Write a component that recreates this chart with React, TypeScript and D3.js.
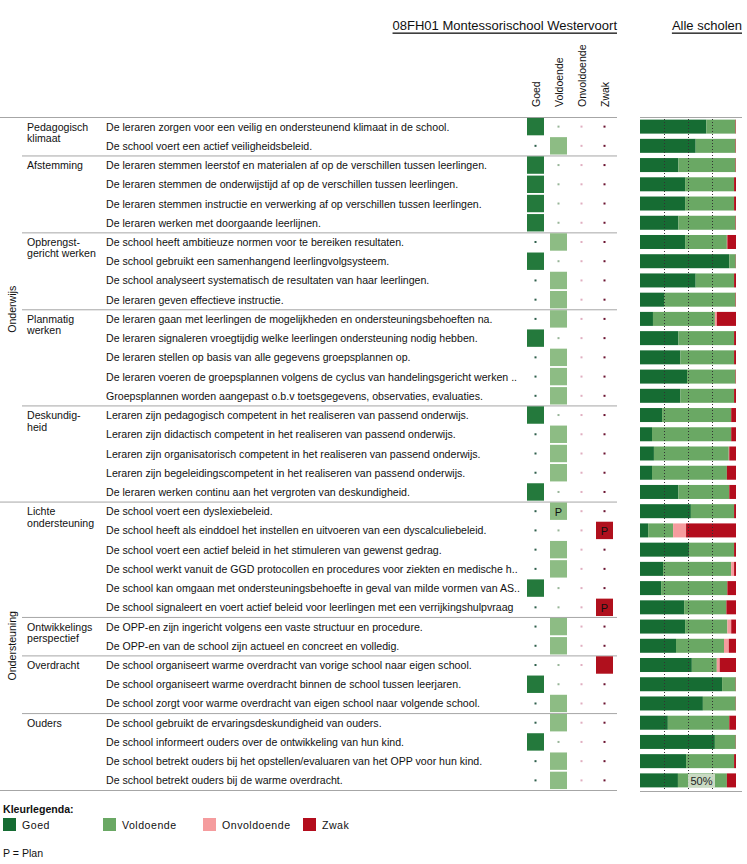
import React from "react";
import * as d3 from "d3";

const items = [
  "De leraren zorgen voor een veilig en ondersteunend klimaat in de school.",
  "De school voert een actief veiligheidsbeleid.",
  "De leraren stemmen leerstof en materialen af op de verschillen tussen leerlingen.",
  "De leraren stemmen de onderwijstijd af op de verschillen tussen leerlingen.",
  "De leraren stemmen instructie en verwerking af op verschillen tussen leerlingen.",
  "De leraren werken met doorgaande leerlijnen.",
  "De school heeft ambitieuze normen voor te bereiken resultaten.",
  "De school gebruikt een samenhangend leerlingvolgsysteem.",
  "De school analyseert systematisch de resultaten van haar leerlingen.",
  "De leraren geven effectieve instructie.",
  "De leraren gaan met leerlingen de mogelijkheden en ondersteuningsbehoeften na.",
  "De leraren signaleren vroegtijdig welke leerlingen ondersteuning nodig hebben.",
  "De leraren stellen op basis van alle gegevens groepsplannen op.",
  "De leraren voeren de groepsplannen volgens de cyclus van handelingsgericht werken ..",
  "Groepsplannen worden aangepast o.b.v toetsgegevens, observaties, evaluaties.",
  "Leraren zijn pedagogisch competent in het realiseren van passend onderwijs.",
  "Leraren zijn didactisch competent in het realiseren van passend onderwijs.",
  "Leraren zijn organisatorisch competent in het realiseren van passend onderwijs.",
  "Leraren zijn begeleidingscompetent in het realiseren van passend onderwijs.",
  "De leraren werken continu aan het vergroten van deskundigheid.",
  "De school voert een dyslexiebeleid.",
  "De school heeft als einddoel het instellen en uitvoeren van een dyscalculiebeleid.",
  "De school voert een actief beleid in het stimuleren van gewenst gedrag.",
  "De school werkt vanuit de GGD protocollen en procedures voor ziekten en medische h..",
  "De school kan omgaan met ondersteuningsbehoefte in geval van milde vormen van AS..",
  "De school signaleert en voert actief beleid voor leerlingen met een verrijkingshulpvraag",
  "De OPP-en zijn ingericht volgens een vaste structuur en procedure.",
  "De OPP-en van de school zijn actueel en concreet en volledig.",
  "De school organiseert warme overdracht van vorige school naar eigen school.",
  "De school organiseert warme overdracht binnen de school tussen leerjaren.",
  "De school zorgt voor warme overdracht van eigen school naar volgende school.",
  "De school gebruikt de ervaringsdeskundigheid van ouders.",
  "De school informeert ouders over de ontwikkeling van hun kind.",
  "De school betrekt ouders bij het opstellen/evaluaren van het OPP voor hun kind.",
  "De school betrekt ouders bij de warme overdracht.",
];

const groupNames = [
  ["Pedagogisch", "klimaat"],
  ["Afstemming"],
  ["Opbrengst-", "gericht werken"],
  ["Planmatig", "werken"],
  ["Deskundig-", "heid"],
  ["Lichte", "ondersteuning"],
  ["Ontwikkelings", "perspectief"],
  ["Overdracht"],
  ["Ouders"],
];
const groupSizes = [2, 4, 4, 5, 5, 6, 2, 3, 4];

const sectionNames = ["Onderwijs", "Ondersteuning"];
const sectionSizes = [20, 15];

const ratingLabels = ["Goed", "Voldoende", "Onvoldoende", "Zwak"];
// school rating per item: 0 Goed, 1 Voldoende, 2 Onvoldoende, 3 Zwak
const schoolRating = [
  0, 1, 0, 0, 0, 0, 1, 0, 1, 1,
  1, 0, 1, 1, 1, 0, 1, 1, 1, 0,
  1, 3, 1, 1, 0, 3, 1, 1, 3, 0,
  1, 1, 0, 1, 1,
];
const planItems = [20, 21, 25];

// Alle scholen distribution (%)
const goedPct = [69, 58, 40, 47, 47, 40, 47, 93, 58, 25, 13.5, 40, 42, 49, 42, 23, 12.5, 14.5, 12.5, 40, 53, 8.5, 51, 24, 22, 46, 47, 37.5, 54, 85.5, 65.5, 29, 78, 48, 39.5];
const voldPct = [30.5, 41.5, 59.5, 51, 51, 59.5, 43.5, 6.7, 40, 74.5, 64.5, 58, 56, 50.5, 56, 72, 82.5, 78, 78, 53, 45, 26, 47, 71, 69, 44, 44, 50, 26, 14.2, 34.2, 64, 21.7, 50, 51];
const onvPct = [0, 0, 0, 0, 0, 0, 0.5, 0, 0, 0, 2, 0, 0, 0, 0, 0, 0, 0.5, 0, 0, 0, 13.5, 0, 3, 0, 0, 4, 5, 3, 0, 0, 0, 0, 0, 0];
const zwakPct = [0.5, 0.5, 0.5, 2, 2, 0.5, 9, 0.3, 2, 0.5, 20, 2, 2, 0.5, 2, 5, 5, 7, 9.5, 7, 2, 52, 2, 2, 9, 10, 5, 7.5, 17, 0.3, 0.3, 7, 0.3, 2, 9.5];

const axisTicks = [25, 50, 75];
const markerLabel = "50%";

const FONT = "'Liberation Sans', Arial, sans-serif";
const barColors = ["#166c33", "#6aa864", "#f59c9e", "#b30d1d"];
const boxColors = ["#24793c", "#8dbc84", "#f4a3a5", "#b0101d"];
const dotColors = ["#2f5f4c", "#98b598", "#e0aec0", "#6b1330"];

export default function App() {
  const W = 747, H = 864;
  const top = 117, bottom = 790;
  const idx = items.map((_, i) => i);
  const y = d3.scaleBand<number>().domain(idx).range([top, bottom]).padding(0);
  const bw = y.bandwidth();
  const colX = d3.scalePoint<string>().domain(ratingLabels).range([535.5, 604.5]);
  const x = d3.scaleLinear().domain([0, 100]).range([640, 736]);

  const table = idx.map((i) => ({ i, Goed: goedPct[i], Voldoende: voldPct[i], Onvoldoende: onvPct[i], Zwak: zwakPct[i] }));
  const stacked = d3.stack<any>().keys(ratingLabels).offset(d3.stackOffsetExpand)(table);

  const groupStarts: number[] = [];
  let acc = 0;
  groupSizes.forEach((s) => { groupStarts.push(acc); acc += s; });
  const sectionStarts: number[] = [];
  acc = 0;
  sectionSizes.forEach((s) => { sectionStarts.push(acc); acc += s; });

  const fs = 10.6;
  const cy = (i: number) => (y(i) as number) + bw / 2;

  return (
    <svg width={W} height={H} style={{ position: "absolute", left: 0, top: 0, background: "#fff" }} fontFamily={FONT}>
      {/* titles */}
      <text x={617} y={25} textAnchor="end" dominantBaseline="central" fontSize={13} textDecoration="underline" fill="#111">08FH01 Montessorischool Westervoort</text>
      <text x={742} y={25} textAnchor="end" dominantBaseline="central" fontSize={13} textDecoration="underline" fill="#111">Alle scholen</text>

      {/* column headers */}
      {ratingLabels.map((r) => (
        <text key={r} transform={`translate(${colX(r)},107) rotate(-90)`} dominantBaseline="central" fontSize={10.5} fill="#111">{r}</text>
      ))}

      {/* section lines */}
      {sectionStarts.map((s) => (
        <line key={"s" + s} x1={0} x2={617} y1={y(s)! + 0.5} y2={y(s)! + 0.5} stroke="#a6a6a6" />
      ))}
      <line x1={0} x2={617} y1={bottom + 0.5} y2={bottom + 0.5} stroke="#a6a6a6" />
      {groupStarts.filter((g) => !sectionStarts.includes(g)).map((g) => (
        <line key={"g" + g} x1={22} x2={617} y1={y(g)! + 0.5} y2={y(g)! + 0.5} stroke="#a6a6a6" />
      ))}

      {/* section labels */}
      {sectionNames.map((n, k) => {
        const s = sectionStarts[k];
        const e = s + sectionSizes[k];
        const mid = ((y(s) as number) + (e < items.length ? (y(e) as number) : bottom)) / 2;
        return (
          <text key={n} transform={`translate(12,${mid}) rotate(-90)`} textAnchor="middle" dominantBaseline="central" fontSize={fs} fill="#111">{n}</text>
        );
      })}

      {/* group labels */}
      {groupNames.map((lines, k) => (
        <text key={k} x={27} y={cy(groupStarts[k])} fontSize={fs} fill="#111" dominantBaseline="central">
          {lines.map((l, j) => (
            <tspan key={j} x={27} dy={j === 0 ? 0 : 11.5}>{l}</tspan>
          ))}
        </text>
      ))}

      {/* item texts */}
      {items.map((t, i) => (
        <text key={i} x={106} y={cy(i)} fontSize={fs} fill="#111" dominantBaseline="central">{t}</text>
      ))}

      {/* school cells */}
      {idx.map((i) => (
        <g key={"c" + i}>
          {ratingLabels.map((r, k) =>
            schoolRating[i] === k ? (
              <g key={r}>
                <rect x={colX(r)! - 8.5} y={cy(i) - 8.7} width={17} height={17.4} fill={boxColors[k]} />
                {planItems.includes(i) && (
                  <text x={colX(r)!} y={cy(i) + 0.5} textAnchor="middle" dominantBaseline="central" fontSize={11} fill="#111">P</text>
                )}
              </g>
            ) : (
              <rect key={r} x={colX(r)! - 1} y={cy(i) - 1} width={2} height={2} fill={dotColors[k]} />
            )
          )}
        </g>
      ))}

      {/* Alle scholen bars */}
      <line x1={640} x2={742} y1={top + 0.5} y2={top + 0.5} stroke="#a6a6a6" />
      <line x1={640} x2={742} y1={bottom + 1.5} y2={bottom + 1.5} stroke="#a6a6a6" />
      {stacked.map((series, k) => (
        <g key={series.key} fill={barColors[k]}>
          {series.map((d, i) => (
            <rect key={i} x={x(d[0] * 100)} y={cy(i) - 7} width={Math.max(0, x(d[1] * 100) - x(d[0] * 100))} height={14} />
          ))}
        </g>
      ))}
      {axisTicks.map((t) => (
        <line key={t} x1={Math.round(x(t)) + 0.5} x2={Math.round(x(t)) + 0.5} y1={top + 2} y2={bottom} stroke="#333" strokeWidth={1} strokeDasharray="1,2" />
      ))}
      <rect x={x(50)} y={cy(items.length - 1) - 6.5} width={27} height={14} fill="#d9e3d3" opacity={0.85} />
      <text x={x(50) + 13.5} y={cy(items.length - 1) + 0.5} textAnchor="middle" dominantBaseline="central" fontSize={11} fill="#222">{markerLabel}</text>

      {/* legend */}
      <text x={3} y={809} dominantBaseline="central" fontSize={fs} fontWeight="bold" fill="#111">Kleurlegenda:</text>
      {ratingLabels.map((r, k) => (
        <g key={r}>
          <rect x={3 + k * 100} y={818} width={13} height={13} fill={barColors[k]} />
          <text x={22 + k * 100} y={825} dominantBaseline="central" fontSize={fs} letterSpacing={0.5} fill="#111">{r}</text>
        </g>
      ))}
      <text x={3} y={853} dominantBaseline="central" fontSize={fs} fill="#111">P = Plan</text>
    </svg>
  );
}
